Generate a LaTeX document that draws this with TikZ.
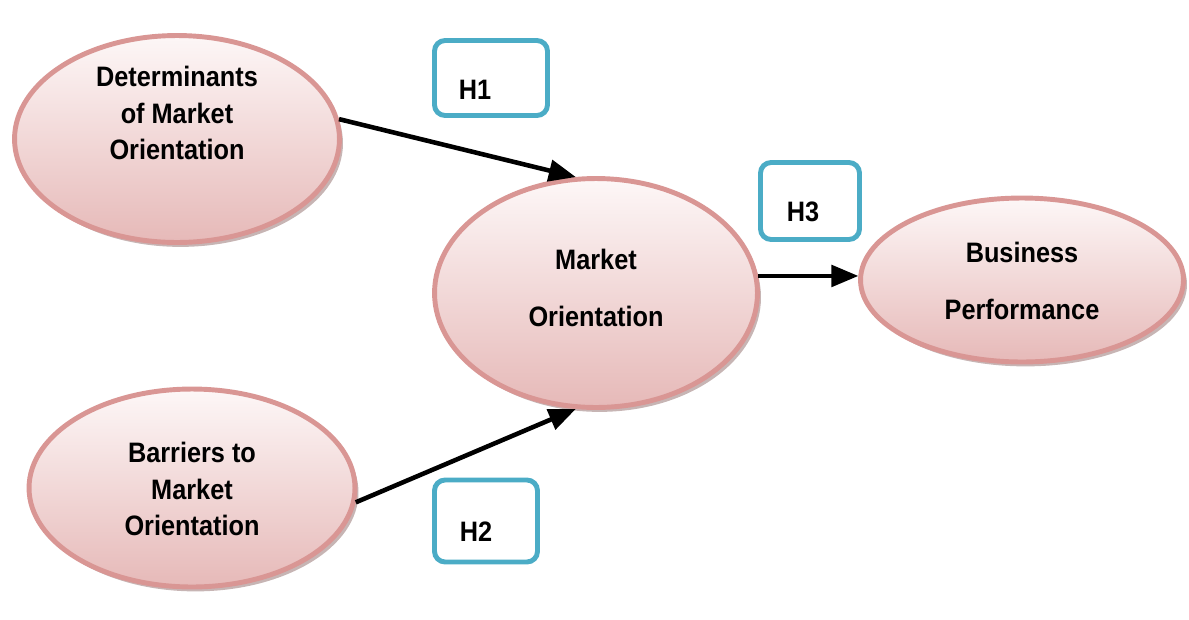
\documentclass[tikz,border=0pt]{standalone}
\usepackage{fontspec}
\setmainfont{Liberation Sans}
\newfontfamily\narrowsans[FakeStretch=0.9]{Liberation Sans}
\usetikzlibrary{shapes.geometric, arrows, shadows}

\definecolor{rimpink}{HTML}{D99694}
\definecolor{toppink}{HTML}{FDF7F7}
\definecolor{botpink}{HTML}{E6B9B8}
\definecolor{boxblue}{HTML}{4BACC6}

\begin{document}
\begin{tikzpicture}[x=0.02cm, y=-0.02cm,
        construct/.style={ellipse, draw=rimpink, line width=2.8pt, inner sep=0pt,
            top color=toppink, bottom color=botpink,
            drop shadow={shadow xshift=2pt, shadow yshift=-2.5pt, fill=rimpink!60!black, opacity=0.45}},
        hypbox/.style={draw=boxblue, line width=2.8pt, rounded corners=6pt, fill=white},
        lbl/.style={font=\narrowsans\fontsize{16}{21}\selectfont\bfseries, align=center, inner sep=0pt},
        widelbl/.style={lbl, font=\narrowsans\fontsize{16}{32}\selectfont\bfseries},
        link/.style={-triangle 45, line width=2.6pt}]
        \useasboundingbox (0,0) rectangle (1189,619);

        % constructs
        \node[construct, minimum width=6.5cm, minimum height=4.14cm] (det) at (177,139) {};
        \node[construct, minimum width=6.46cm, minimum height=4.58cm] (mo) at (596,293) {};
        \node[construct, minimum width=6.46cm, minimum height=3.28cm] (bp) at (1022,280) {};
        \node[construct, minimum width=6.52cm, minimum height=3.96cm] (bar) at (192,488) {};

        \node[lbl] (dettext) at (177,113) {Determinants\\of Market\\Orientation};
        \node[widelbl] (motext) at (596,288) {Market\\Orientation};
        \node[widelbl] (bptext) at (1022,281) {Business\\Performance};
        \node[lbl] (bartext) at (192,489) {Barriers to\\Market\\Orientation};

        % hypotheses
        \node[hypbox, minimum width=2.26cm, minimum height=1.5cm] (h1box) at (491,78) {};
        \node[hypbox, minimum width=1.98cm, minimum height=1.54cm] (h3box) at (810,201) {};
        \node[hypbox, minimum width=2.06cm, minimum height=1.64cm] (h2box) at (486,521) {};

        \node[lbl] (h1) at (475,90) {H1};
        \node[lbl] (h3) at (803,212) {H3};
        \node[lbl] (h2) at (476,532) {H2};

        \draw[link] (det.7) -- (mo.100);
        \draw[link] (bar.-5) -- (mo.260);
        \draw[link] (mo.6) -- (mo.6 -| bp.west);
\end{tikzpicture}
\end{document}
